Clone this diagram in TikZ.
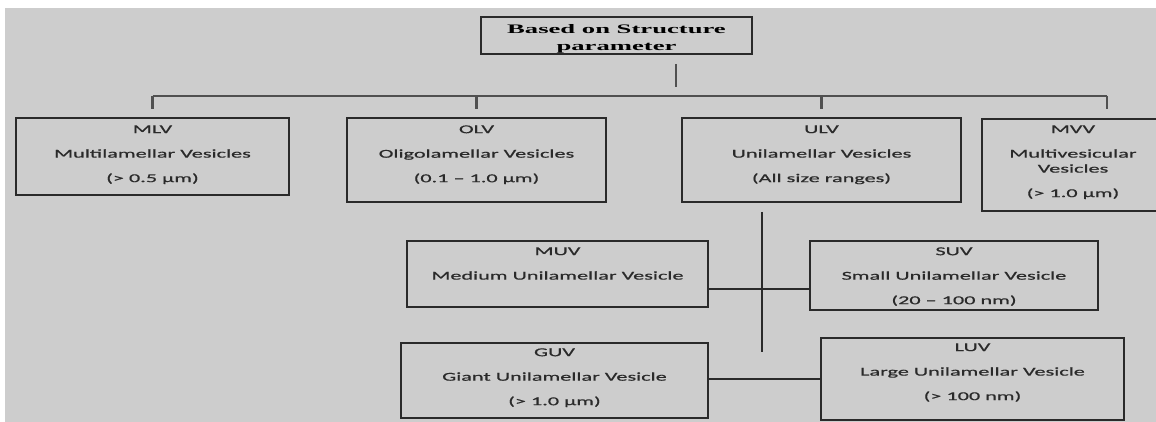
\documentclass[tikz,border=0pt]{standalone}
\usepackage{fontspec}
\usepackage{tikz}
\usetikzlibrary{positioning,calc}
\newfontfamily\boxfont[FakeStretch=1.85,FakeBold=0.8]{Carlito}
\newfontfamily\headfont[FakeStretch=2.05]{Liberation Serif}
\definecolor{bggray}{HTML}{CDCDCD}
\definecolor{busgray}{HTML}{505050}
\definecolor{inkgray}{HTML}{2A2A2A}

\begin{document}
\begin{tikzpicture}[x=0.5pt,y=-0.5pt,
    vesicle/.style={draw=inkgray,line width=1pt,inner sep=0pt},
    vtext/.style={inner sep=0pt,align=center,text=inkgray,font=\boxfont\fontsize{6}{7.5}\selectfont},
    bus/.style={draw=busgray,line width=1.1pt},
    link/.style={draw=inkgray,line width=0.8pt}]
  \path[use as bounding box] (0,0) rectangle (1156,422);
  \clip (0,0) rectangle (1156,422);
  \fill[bggray] (5,8) rectangle (1160,426);

  % root
  \node[vesicle,minimum width=135.5pt,minimum height=18.5pt] (root) at (616.5,35.5) {};
  \node[inner sep=0pt,align=center,below=3.8pt of root.north,
        font=\headfont\bfseries\fontsize{6.5}{8.5}\selectfont] {Based on Structure\\parameter};

  % first level
  \node[vesicle,minimum width=136.5pt,minimum height=38.5pt] (mlv) at (152.5,156.5) {};
  \node[vesicle,minimum width=129.5pt,minimum height=42pt]   (olv) at (476.5,160) {};
  \node[vesicle,minimum width=139.5pt,minimum height=42pt]   (ulv) at (821.5,160) {};
  \node[vesicle,minimum width=91pt,minimum height=46pt]      (mvv) at (1073,165) {};
  \node[vtext,below=4pt of mlv.north] {MLV\\[4.75pt]Multilamellar Vesicles\\[4.75pt](> 0.5 µm)};
  \node[vtext,below=4pt of olv.north] {OLV\\[4.75pt]Oligolamellar Vesicles\\[4.75pt](0.1 – 1.0 µm)};
  \node[vtext,below=4pt of ulv.north] {ULV\\[4.75pt]Unilamellar Vesicles\\[4.75pt](All size ranges)};
  \node[vtext,below=3.5pt of mvv.north] {MVV\\[4.75pt]Multivesicular\\Vesicles\\[4.75pt](> 1.0 µm)};

  % unilamellar kinds
  \node[vesicle,minimum width=150.5pt,minimum height=33pt]   (muv) at (557.5,274) {};
  \node[vesicle,minimum width=144pt,minimum height=34.5pt]   (suv) at (954,275.5) {};
  \node[vesicle,minimum width=153.5pt,minimum height=37.5pt] (guv) at (554.5,380.5) {};
  \node[vesicle,minimum width=151.5pt,minimum height=41pt]   (luv) at (972.5,379) {};
  \node[vtext,below=3.5pt of muv.north] {MUV\\[4.75pt]Medium Unilamellar Vesicle};
  \node[vtext,below=3.5pt of suv.north] {SUV\\[4.75pt]Small Unilamellar Vesicle\\[4.75pt](20 – 100 nm)};
  \node[vtext,below=3pt of guv.north] {GUV\\[4.75pt]Giant Unilamellar Vesicle\\[4.75pt](> 1.0 µm)};
  \node[vtext,below=3pt of luv.north] {LUV\\[4.75pt]Large Unilamellar Vesicle\\[4.75pt](> 100 nm)};

  % tree lines
  \coordinate (bus) at (0,96);
  \draw[bus] ($(root.south)+(59.5,9)$) -- ++(0,23);
  \draw[bus] (mlv.north |- bus) -- ([xshift=17pt]mvv.north |- bus);
  \foreach \n in {mlv,olv,ulv}
    \draw[bus] (\n.north |- bus) -- ([yshift=4pt]\n.north);
  \draw[bus] ([xshift=17pt]mvv.north |- bus) -- ([xshift=17pt,yshift=4.5pt]mvv.north);

  \draw[link] ($(ulv.south)+(-59.5,9)$) -- ++(0,140);
  \draw[link] ([yshift=-7.5pt]muv.east) -- ([yshift=-7.5pt]muv.east -| suv.west);
  \draw[link] (luv.west -| guv.east) -- (luv.west);
\end{tikzpicture}
\end{document}
